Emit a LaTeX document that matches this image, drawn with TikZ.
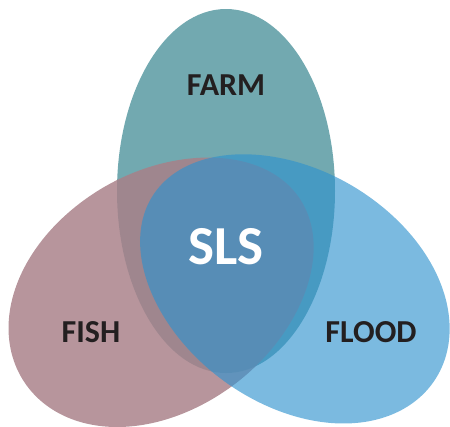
\documentclass[tikz,border=0pt]{standalone}
\usepackage{fontspec}
\setmainfont{Carlito}
\definecolor{farmc}{RGB}{114,169,176}
\definecolor{fishc}{RGB}{169,128,136}
\definecolor{floodc}{RGB}{46,146,206}
\definecolor{labelc}{RGB}{35,31,32}
\tikzset{
  farmshape/.style={fill=farmc},
  fishshape/.style={fill=fishc, fill opacity=0.83},
  floodshape/.style={fill=floodc, fill opacity=0.63},
  setlabel/.style={font=\bfseries\fontsize{32}{36}\selectfont, text=labelc, inner sep=0pt},
  corelabel/.style={font=\bfseries\fontsize{55}{60}\selectfont, text=white, inner sep=0pt}
}
\begin{document}
\begin{tikzpicture}[x=1pt,y=-1pt]
\useasboundingbox (0,0) rectangle (450,426);
% FARM
\fill[farmshape] (226,191) ellipse [x radius=109, y radius=182];
% FISH (egg, narrow end toward upper right)
\begin{scope}[shift={(165,288.5)}, rotate=33.7]
\fill[fishshape] plot[domain=0:360, samples=120, smooth cycle, variable=\t]
  ({165.5*cos(\t)-3.5*abs(cos(\t))}, {118.5*sin(\t)*(1-0.05*cos(\t))});
\end{scope}
% FLOOD (egg, narrow end toward upper left)
\begin{scope}[shift={(292,286)}, rotate=-33.3]
\fill[floodshape] plot[domain=0:360, samples=120, smooth cycle, variable=\t]
  ({168.5*cos(\t)+2.5*abs(cos(\t))}, {117*sin(\t)*(1+0.04*cos(\t))});
\end{scope}
% labels
\node[setlabel] (farm) at (226,85) {FARM};
\node[setlabel] (fish) at (91,332) {FISH};
\node[setlabel] (flood) at (371,332) {FLOOD};
\node[corelabel] (sls) at (226,247) {SLS};
\end{tikzpicture}
\end{document}
